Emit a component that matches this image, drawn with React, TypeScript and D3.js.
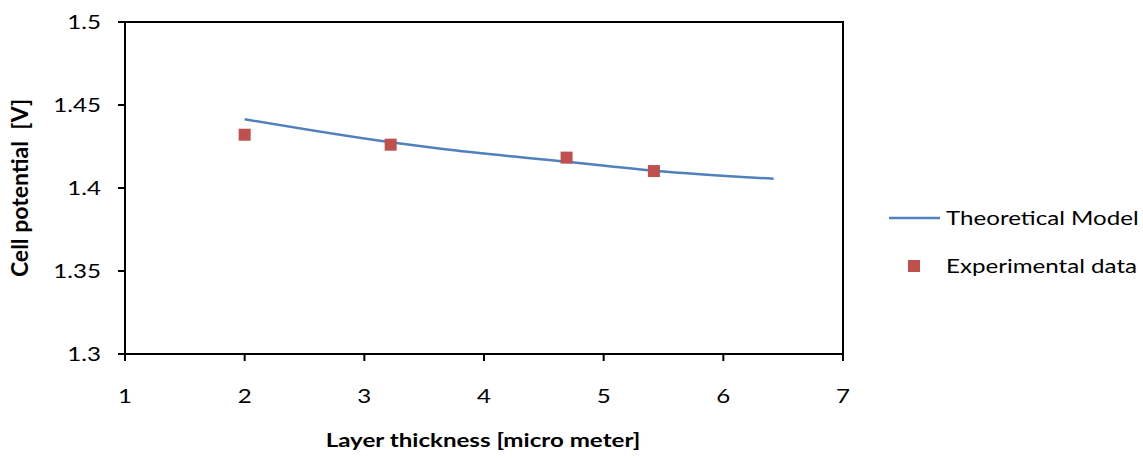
import React from "react";
import * as d3 from "d3";

// Theoretical model curve (layer thickness in micro meter -> cell potential in V)
const modelThickness = [2.0, 3.22, 3.64, 4.69, 5.42, 6.42];
const modelPotential = [1.4414, 1.4275, 1.4236, 1.4158, 1.4104, 1.4056];

// Experimental measurements
const expThickness = [2.0, 3.22, 4.69, 5.42];
const expPotential = [1.4321, 1.4261, 1.4183, 1.4102];

const xTicks = [1, 2, 3, 4, 5, 6, 7];
const yTicks = [1.3, 1.35, 1.4, 1.45, 1.5];

const W = 1143;
const H = 460;
const M = { left: 125, right: 843, top: 22, bottom: 354 };
const FONT = "Lato, 'Open Sans', sans-serif";
const LINE = "#4F81BD";
const MARK = "#C0504D";
const SX = 1.27; // horizontal widening of the lettering

type LabelProps = {
  x: number;
  y: number;
  anchor?: "start" | "middle" | "end";
  bold?: boolean;
  size?: number;
  children: string;
};

function Label({ x, y, anchor = "start", bold = false, size = 19, children }: LabelProps) {
  return (
    <text
      transform={`translate(${x},${y}) scale(${SX},1)`}
      textAnchor={anchor}
      dy="0.35em"
      fontFamily={FONT}
      fontWeight={bold ? "bold" : "normal"}
      fontSize={size}
      fill="#000"
    >
      {children}
    </text>
  );
}

export default function App() {
  const x = d3.scaleLinear().domain([1, 7]).range([M.left, M.right]);
  const y = d3.scaleLinear().domain([1.3, 1.5]).range([M.bottom, M.top]);

  const modelPts: [number, number][] = modelThickness.map((t, i) => [t, modelPotential[i]]);
  const line = d3
    .line<[number, number]>()
    .x((d) => x(d[0]))
    .y((d) => y(d[1]))
    .curve(d3.curveMonotoneX);

  const ms = 12;

  return (
    <svg
      width={W}
      height={H}
      style={{ position: "absolute", left: 0, top: 0, background: "#fff" }}
    >
      {/* plot frame */}
      <rect
        x={M.left}
        y={M.top}
        width={M.right - M.left}
        height={M.bottom - M.top}
        fill="none"
        stroke="#000"
        strokeWidth={2}
      />

      {/* y ticks */}
      {yTicks.map((t) => (
        <g key={"y" + t}>
          <line x1={M.left - 7} x2={M.left} y1={y(t)} y2={y(t)} stroke="#000" strokeWidth={2} />
          <Label x={M.left - 24} y={y(t)} anchor="end">
            {String(t)}
          </Label>
        </g>
      ))}

      {/* x ticks */}
      {xTicks.map((t) => (
        <g key={"x" + t}>
          <line x1={x(t)} x2={x(t)} y1={M.bottom} y2={M.bottom + 7} stroke="#000" strokeWidth={2} />
          <Label x={x(t)} y={M.bottom + 42} anchor="middle">
            {String(t)}
          </Label>
        </g>
      ))}

      {/* axis titles */}
      <Label x={483} y={440} anchor="middle" bold>
        Layer thickness [micro meter]
      </Label>
      <text
        transform={`translate(28,${(M.top + M.bottom) / 2}) rotate(-90)`}
        textAnchor="middle"
        fontFamily={FONT}
        fontWeight="bold"
        fontSize={23}
        fill="#000"
        style={{ whiteSpace: "pre" }}
      >
        {"Cell potential  [V]"}
      </text>

      {/* model curve */}
      <path d={line(modelPts) || ""} fill="none" stroke={LINE} strokeWidth={2.5} />

      {/* experimental markers */}
      {expThickness.map((t, i) => (
        <rect
          key={"m" + i}
          x={x(t) - ms / 2}
          y={y(expPotential[i]) - ms / 2}
          width={ms}
          height={ms}
          fill={MARK}
        />
      ))}

      {/* legend */}
      <line x1={889} x2={940} y1={218} y2={218} stroke={LINE} strokeWidth={2.5} />
      <Label x={946} y={218}>Theoretical Model</Label>
      <rect x={914 - ms / 2} y={266 - ms / 2} width={ms} height={ms} fill={MARK} />
      <Label x={946} y={266}>Experimental data</Label>
    </svg>
  );
}
